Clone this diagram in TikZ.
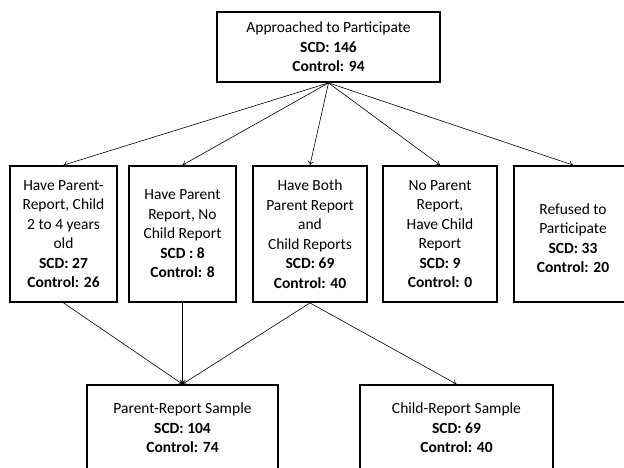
\documentclass[tikz,border=0pt]{standalone}
\usepackage{fontspec}
\setmainfont{Carlito}
\usetikzlibrary{arrows.meta}

\tikzset{every picture/.style={line width=0.75pt}}
\tikzset{
  box/.style={draw, line width=1.8pt, align=center, inner sep=0pt, font=\fontsize{15.5}{19.5}\selectfont},
  link/.style={line width=0.6pt, -{To[length=4pt,width=6pt]}}
}

\begin{document}
\begin{tikzpicture}[x=1pt,y=1pt,yscale=-1,xscale=1]
	\useasboundingbox (0,0) rectangle (624,467);

	%Shape: Rectangle
	\node [box, minimum width=223, minimum height=70] (appr) at (328.5,47) {Approached to Participate\\ \textbf{SCD: 146}\\ \textbf{Control: 94}};
	%Shape: Rectangle
	\node [box, minimum width=107, minimum height=136] (pr24) at (63.5,234) {Have Parent-\\Report, Child\\2 to 4 years\\old\\ \textbf{SCD: 27}\\ \textbf{Control: 26}};
	%Shape: Rectangle
	\node [box, minimum width=107, minimum height=136] (pronly) at (182.5,234) {Have Parent\\Report, No\\Child Report\\ \textbf{SCD : 8}\\ \textbf{Control: 8}};
	%Shape: Rectangle
	\node [box, minimum width=114, minimum height=136] (both) at (310,234) {Have Both\\Parent Report\\and\\Child Reports\\ \textbf{SCD: 69}\\ \textbf{Control: 40}};
	%Shape: Rectangle
	\node [box, minimum width=114, minimum height=136] (cronly) at (440,234) {No Parent\\Report,\\Have Child\\Report\\ \textbf{SCD: 9}\\ \textbf{Control: 0}};
	%Shape: Rectangle
	\node [box, minimum width=118, minimum height=136] (refused) at (573,234) {\mbox{}\\Refused to\\Participate\\ \textbf{SCD: 33}\\ \textbf{Control: 20}};
	%Shape: Rectangle
	\node [box, minimum width=191, minimum height=86] (prsample) at (182.5,428) {Parent-Report Sample\\ \textbf{SCD: 104}\\ \textbf{Control: 74}};
	%Shape: Rectangle
	\node [box, minimum width=193, minimum height=86] (crsample) at (456.5,428) {Child-Report Sample\\ \textbf{SCD: 69}\\ \textbf{Control: 40}};

	%Straight Lines
	\draw [link] (appr.south) -- (pr24.north);
	\draw [link] (appr.south) -- (pronly.north);
	\draw [link] (appr.south) -- (both.north);
	\draw [link] (appr.south) -- (cronly.north);
	\draw [link] (appr.south) -- (refused.north);
	%Straight Lines
	\draw [link] (pr24.south) -- (prsample.north);
	\draw [link] (pronly.south) -- (prsample.north);
	\draw [link] (both.south) -- (prsample.north);
	\draw [link] (both.south) -- (crsample.north);

\end{tikzpicture}
\end{document}
